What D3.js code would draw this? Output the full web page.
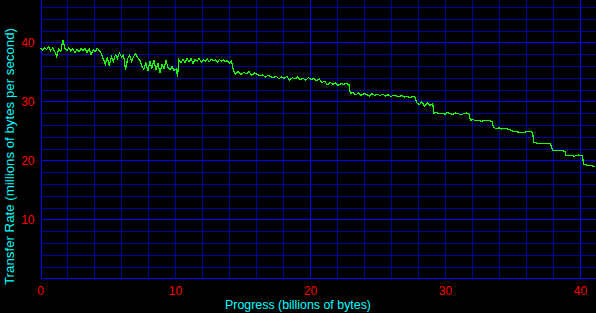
<!DOCTYPE html>
<html>
<head>
<meta charset="utf-8">
<script src="https://cdn.jsdelivr.net/npm/d3@7"></script>
<style>
  html, body { margin: 0; padding: 0; background: #000; }
  svg { display: block; }
</style>
</head>
<body>
<script>
// progress in billions of bytes, rate in millions of bytes per second
var progress = [
  0.00,0.15,0.30,0.45,0.60,0.75,0.90,1.05,1.20,1.35,1.50,1.65,1.80,1.95,2.10,2.25,2.40,2.55,2.70,2.85,
  3.00,3.15,3.30,3.45,3.60,3.75,3.90,4.05,4.20,4.35,4.50,4.65,4.80,4.95,5.10,5.25,5.40,5.55,5.70,5.85,
  6.00,6.15,6.30,6.45,6.60,6.75,6.90,7.05,7.20,7.35,7.50,7.65,7.80,7.95,8.10,8.25,8.40,8.55,8.70,8.85,
  9.00,9.15,9.30,9.45,9.60,9.75,9.90,10.05,10.15,10.25,10.40,10.55,10.70,10.85,11.00,11.15,11.30,11.45,11.60,11.75,
  11.90,12.05,12.20,12.35,12.50,12.65,12.80,12.95,13.10,13.25,13.40,13.55,13.70,13.85,14.00,14.15,14.30,14.45,14.65,14.85,
  15.05,15.25,15.45,15.65,15.85,16.05,16.25,16.45,16.65,16.85,17.05,17.25,17.45,17.65,17.85,18.05,18.25,18.45,18.65,18.85,
  19.05,19.25,19.45,19.65,19.85,20.05,20.25,20.45,20.65,20.85,21.05,21.25,21.45,21.65,21.85,22.05,22.25,22.45,22.65,22.85,
  22.95,23.15,23.35,23.55,23.75,23.95,24.15,24.35,24.55,24.75,24.95,25.15,25.35,25.55,25.75,25.95,26.15,26.35,26.55,26.75,
  26.95,27.15,27.35,27.55,27.75,27.85,28.05,28.25,28.45,28.65,28.85,29.05,29.15,29.35,29.55,29.75,29.95,30.15,30.35,30.55,
  30.75,30.95,31.15,31.35,31.55,31.75,31.85,32.05,32.25,32.45,32.65,32.85,33.05,33.25,33.45,33.55,33.75,33.95,34.15,34.45,
  34.75,35.05,35.35,35.65,35.95,36.25,36.45,36.55,36.85,37.15,37.45,37.75,37.93,38.25,38.55,38.85,38.93,39.25,39.55,39.85,
  40.15,40.22,40.45,40.70,40.95,41.10
];
var rate = [
  39.0,38.7,39.1,38.8,39.2,38.6,39.0,38.5,37.6,38.8,38.4,40.4,39.0,38.6,39.1,38.5,38.9,38.2,38.8,38.4,
  38.9,38.6,39.0,38.3,38.9,37.9,38.7,38.4,39.0,38.6,38.1,37.2,36.3,37.5,36.0,37.6,36.8,37.9,37.3,38.2,
  37.5,37.9,35.3,37.2,37.8,36.8,37.6,38.1,37.4,37.0,36.0,35.4,36.5,35.1,36.8,35.6,37.0,35.3,36.5,34.8,
  36.3,35.6,36.9,35.7,35.3,35.9,35.2,35.5,34.2,37.0,36.5,37.1,36.6,37.3,36.7,37.2,36.4,37.1,36.8,37.3,
  36.6,37.0,36.8,37.2,36.7,37.1,36.9,37.0,36.6,37.1,36.8,37.0,36.7,36.9,36.5,36.8,35.2,34.6,35.1,34.5,
  34.9,34.7,35.0,34.4,34.8,34.6,34.3,34.5,34.1,34.4,34.2,34.0,34.3,33.8,34.1,33.9,34.2,33.6,34.0,33.8,
  34.1,33.7,33.9,33.6,34.0,33.7,33.9,33.5,33.8,33.2,33.4,32.8,33.2,32.9,33.1,32.7,33.0,32.9,33.0,32.8,
  31.3,31.5,31.1,31.4,31.0,31.3,31.2,30.9,31.3,31.0,31.2,31.0,31.2,30.9,31.1,30.8,31.0,30.9,30.8,31.0,
  30.7,30.9,30.6,30.8,30.7,29.8,29.4,29.9,29.2,29.7,29.3,29.6,28.0,28.1,27.9,28.0,27.8,28.1,27.9,27.8,
  28.0,27.9,27.7,27.9,28.0,27.8,26.8,26.9,26.7,26.8,26.6,26.7,26.8,26.7,26.6,25.6,25.4,25.5,25.3,25.4,
  25.2,24.9,24.8,24.7,24.8,24.9,24.7,23.0,22.9,22.9,22.8,22.9,21.7,21.6,21.7,21.5,20.8,20.8,20.7,20.9,
  20.8,19.3,19.2,19.1,19.0,18.9
];
var xTicks = [0, 10, 20, 30, 40];
var yTicks = [10, 20, 30, 40];

var w = 596, h = 313;
var x = d3.scaleLinear().domain([0, 41.15]).range([40.5, 596]);
var y = d3.scaleLinear().domain([0, 47.17]).range([278.3, 0]);
function px(v) { return Math.round(v) + 0.5; }

var svg = d3.select("body").append("svg")
    .attr("width", w)
    .attr("height", h)
    .style("background", "#000");

// grid every 2 units, brighter majors
var vGrid = d3.range(2, 41, 2);
var hGrid = d3.range(2, 47, 2);

svg.append("g").selectAll("line")
    .data(vGrid)
    .enter().append("line")
    .attr("x1", function(d) { return px(x(d)); })
    .attr("x2", function(d) { return px(x(d)); })
    .attr("y1", 0)
    .attr("y2", px(y(0)))
    .attr("stroke", function(d) { return d % 20 == 0 ? "#0000ff" : "#00009c"; })
    .attr("stroke-width", 1);

svg.append("g").selectAll("line")
    .data(hGrid)
    .enter().append("line")
    .attr("x1", px(x(0)))
    .attr("x2", w)
    .attr("y1", function(d) { return px(y(d)); })
    .attr("y2", function(d) { return px(y(d)); })
    .attr("stroke", function(d) { return d % 10 == 0 ? "#0000ff" : "#00009c"; })
    .attr("stroke-width", 1);

// axis lines
svg.append("line")
    .attr("x1", px(x(0))).attr("x2", px(x(0)))
    .attr("y1", 0).attr("y2", px(y(0)))
    .attr("stroke", "#0000ff");
svg.append("line")
    .attr("x1", px(x(0))).attr("x2", w)
    .attr("y1", px(y(0))).attr("y2", px(y(0)))
    .attr("stroke", "#0000ff");

// data line
var line = d3.line()
    .x(function(d, i) { return x(progress[i]); })
    .y(function(d) { return y(d); });

svg.append("path")
    .datum(rate)
    .attr("fill", "none")
    .attr("stroke", "#1aff00")
    .attr("stroke-width", 1.2)
    .attr("shape-rendering", "crispEdges")
    .attr("d", line);

// tick labels
var font = "'Liberation Sans', Arial, sans-serif";
svg.append("g").selectAll("text")
    .data(xTicks)
    .enter().append("text")
    .attr("x", function(d) { return x(d); })
    .attr("y", 295)
    .attr("text-anchor", "middle")
    .attr("fill", "#ff0000")
    .style("font-family", font)
    .style("font-size", "12px")
    .text(function(d) { return d; });

svg.append("g").selectAll("text")
    .data(yTicks)
    .enter().append("text")
    .attr("x", 34.5)
    .attr("y", function(d) { return y(d) + 4.3; })
    .attr("text-anchor", "end")
    .attr("fill", "#ff0000")
    .style("font-family", font)
    .style("font-size", "12px")
    .text(function(d) { return d; });

// axis titles
svg.append("text")
    .attr("x", 298)
    .attr("y", 309)
    .attr("text-anchor", "middle")
    .attr("fill", "#00ffff")
    .attr("textLength", 146)
    .attr("lengthAdjust", "spacingAndGlyphs")
    .style("font-family", font)
    .style("font-size", "12px")
    .text("Progress (billions of bytes)");

svg.append("text")
    .attr("transform", "translate(13.5,156.5) rotate(-90)")
    .attr("text-anchor", "middle")
    .attr("fill", "#00ffff")
    .attr("textLength", 257)
    .attr("lengthAdjust", "spacingAndGlyphs")
    .style("font-family", font)
    .style("font-size", "12px")
    .text("Transfer Rate (millions of bytes per second)");
</script>
</body>
</html>
